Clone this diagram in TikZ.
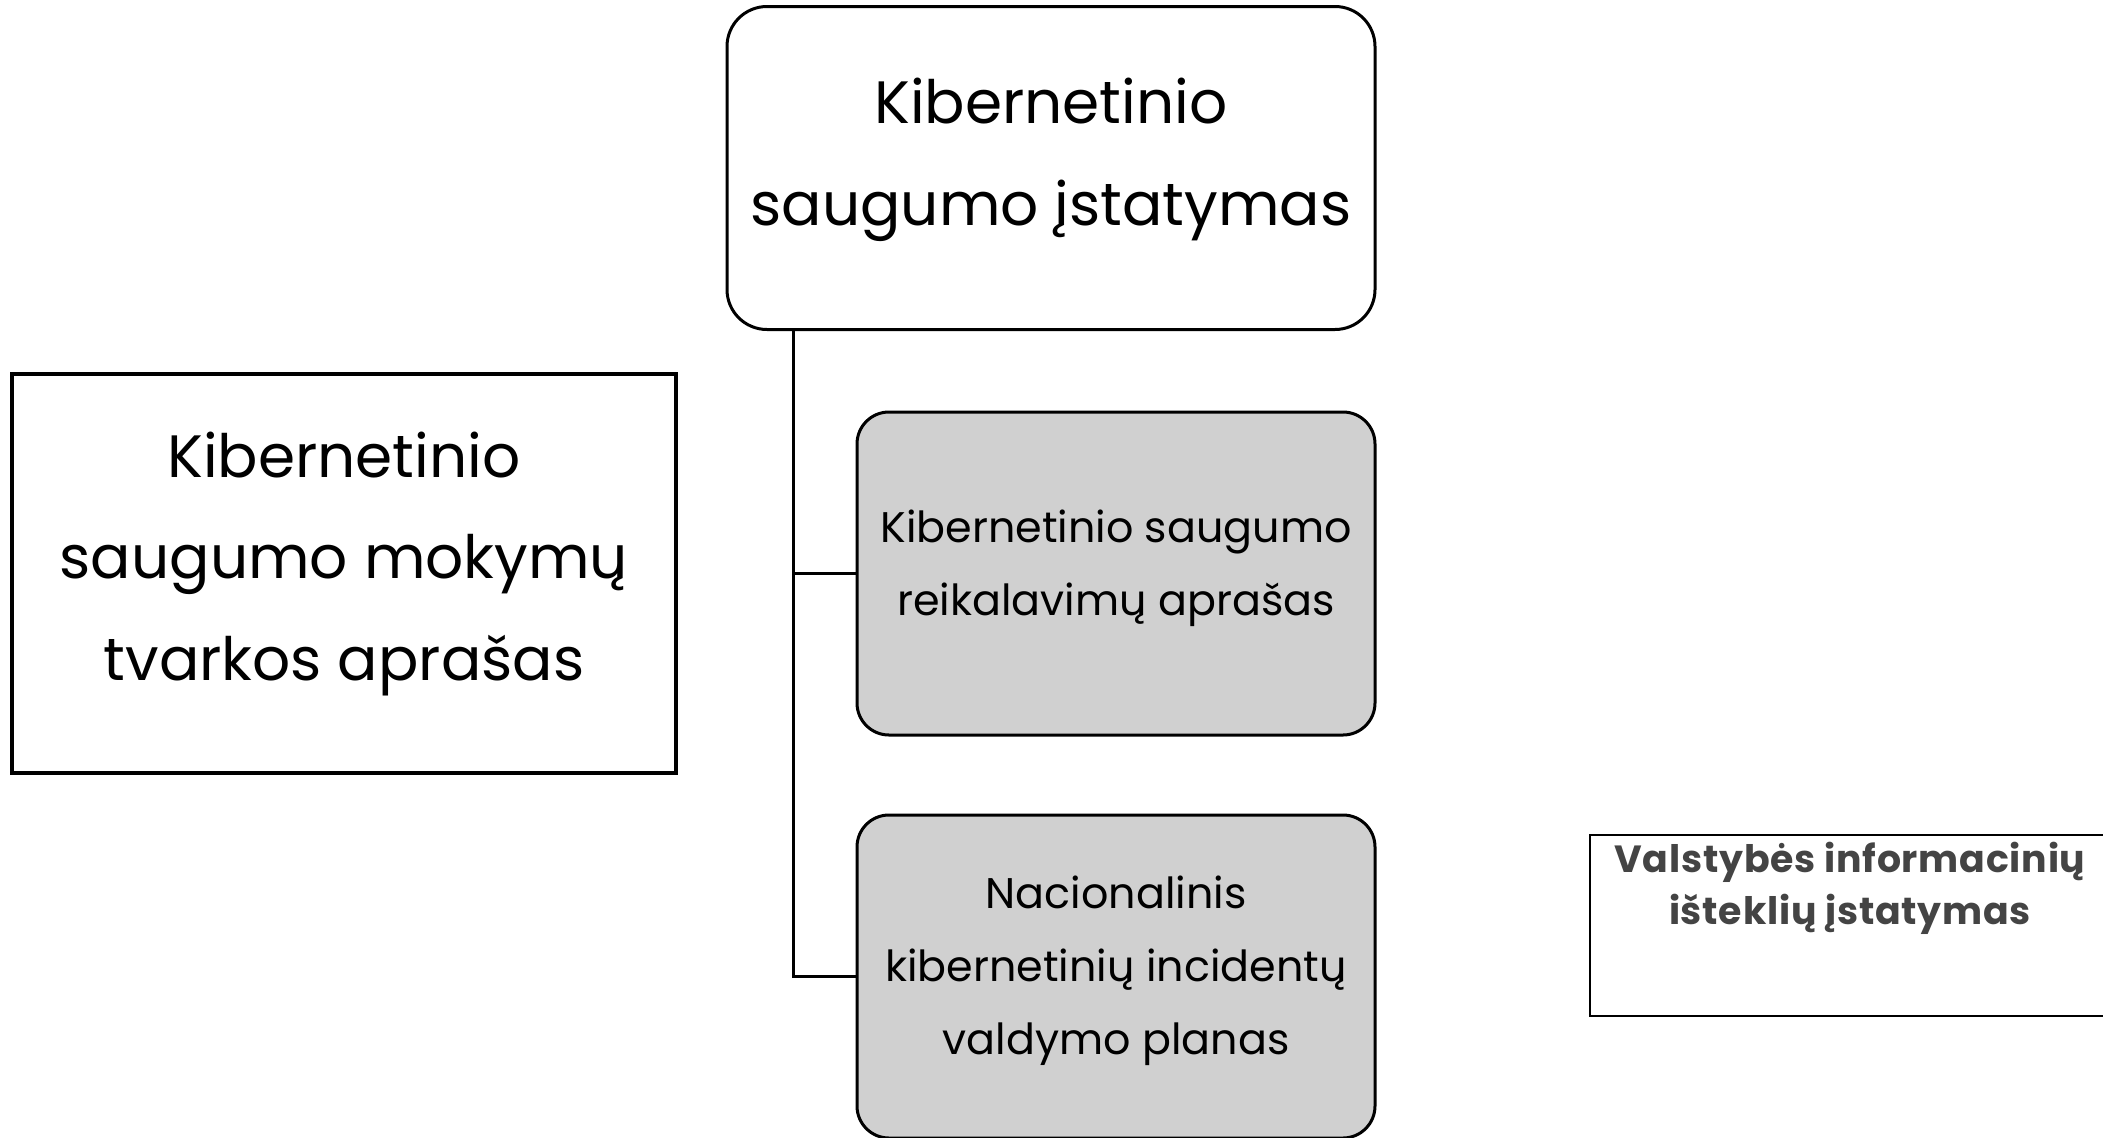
\documentclass[tikz,border=0pt]{standalone}
\usepackage{fontspec}
\setmainfont{Poppins}
\newfontfamily\spacedbold[LetterSpace=2]{Poppins}
\definecolor{boxgray}{HTML}{D0D0D0}
\definecolor{txtgray}{HTML}{444444}
\tikzset{
  rbox/.style={draw=black, line width=3bp, rounded corners=40bp, inner sep=0pt},
  sbox/.style={draw=black, line width=4.5bp, inner sep=0pt},
  tbox/.style={draw=black, line width=2bp, inner sep=0pt},
  bigtxt/.style={align=center, inner sep=0pt, font={\fontsize{60}{102}\selectfont}},
  midtxt/.style={align=center, inner sep=0pt, font={\fontsize{43}{73.5}\selectfont}},
  smalltxt/.style={align=center, inner sep=0pt, text=txtgray, font={\spacedbold\fontsize{38}{52}\selectfont\bfseries}},
  conn/.style={draw=black, line width=3bp},
}
\begin{document}
\begin{tikzpicture}[x=1bp,y=-1bp]
\useasboundingbox (0,0) rectangle (2103,1137);
% top box
\node[rbox, minimum width=648bp, minimum height=323bp, fill=white] (top) at (1051,168) {};
\node[bigtxt] (toptext) at (1051,160) {Kibernetinio\\ saugumo įstatymas};
% left box
\node[sbox, minimum width=664bp, minimum height=399bp, fill=white] (left) at (344,573.5) {};
\node[bigtxt] (lefttext) at (344,564) {Kibernetinio\\ saugumo mokymų\\ tvarkos aprašas};
% box 2
\node[rbox, rounded corners=32bp, fill=boxgray, minimum width=518bp, minimum height=323bp] (b2) at (1116,573.5) {};
\node[midtxt] (b2text) at (1116,568) {Kibernetinio saugumo\\ reikalavimų aprašas};
% box 3
\node[rbox, rounded corners=32bp, fill=boxgray, minimum width=518bp, minimum height=323bp] (b3) at (1116,976.5) {};
\node[midtxt] (b3text) at (1116,971) {Nacionalinis\\ kibernetinių incidentų\\ valdymo planas};
% right box
\node[tbox, minimum width=524bp, minimum height=181bp, fill=white, anchor=north west] (right) at (1589,834) {};
\node[smalltxt] (rtext) at (1850,888) {Valstybės informacinių\\ išteklių įstatymas};
% connectors
\coordinate (sp) at (793,330);
\draw[conn] (top.south -| sp) |- (b2.west);
\draw[conn] (top.south -| sp) |- (b3.west);
\end{tikzpicture}
\end{document}
